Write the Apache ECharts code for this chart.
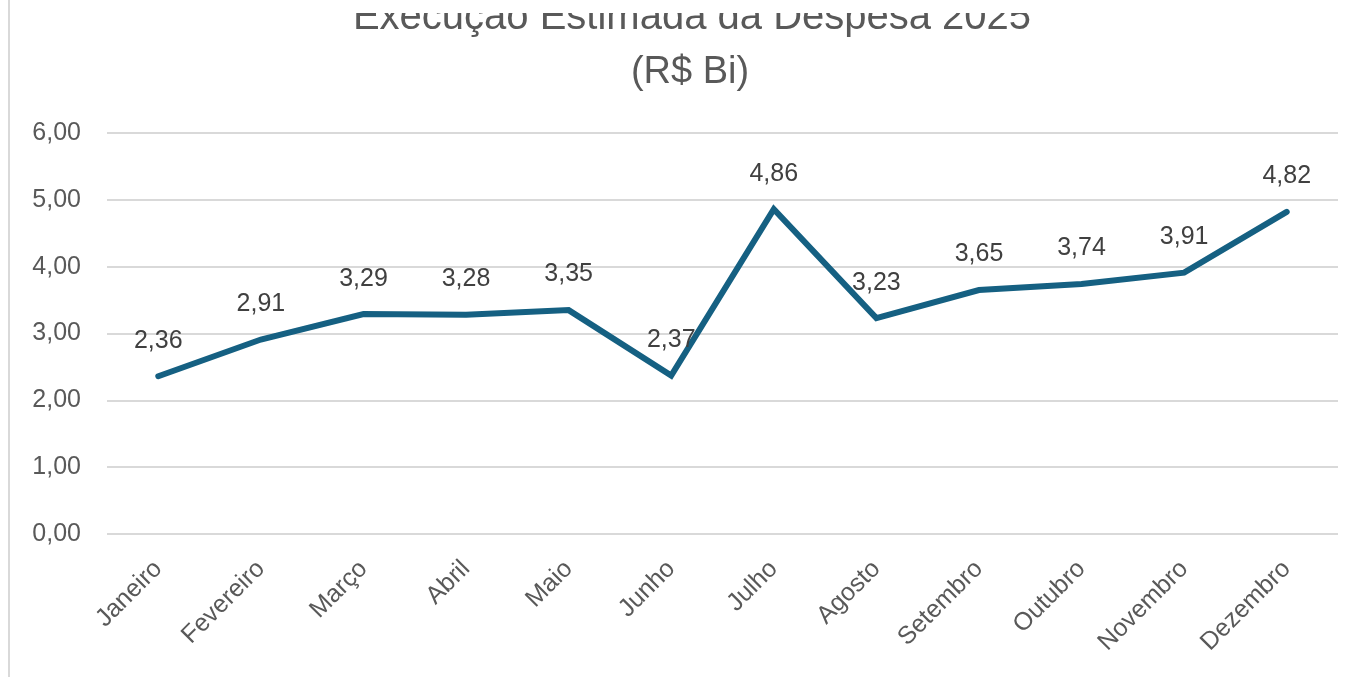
<!DOCTYPE html>
<html>
<head>
<meta charset="utf-8">
<script src="https://cdn.jsdelivr.net/npm/echarts@6/dist/echarts.min.js"></script>
<style>
html,body{margin:0;padding:0;background:#fff;}
#chart{width:1362px;height:677px;}
</style>
</head>
<body>
<div id="chart"></div>
<script>
const titleLines = ['Execução Estimada da Despesa 2025', '(R$ Bi)'];
const categories = ['Janeiro','Fevereiro','Março','Abril','Maio','Junho','Julho','Agosto','Setembro','Outubro','Novembro','Dezembro'];
const values = [2.36, 2.91, 3.29, 3.28, 3.35, 2.37, 4.86, 3.23, 3.65, 3.74, 3.91, 4.82];
const yMin = 0, yMax = 6, yInterval = 1;

const fmt = v => Number(v).toFixed(2).replace('.', ',');
const FONT = '"Liberation Sans", Arial, sans-serif';
const chart = echarts.init(document.getElementById('chart'));
chart.setOption({
  backgroundColor: '#ffffff',
  animation: false,
  graphic: [
    {
      type: 'text', x: 692, y: 38, z: 10,
      style: { text: titleLines[0], fill: '#595959', font: '40px ' + FONT, textAlign: 'center', textVerticalAlign: 'bottom' }
    },
    {
      type: 'text', x: 690, y: 92, z: 10,
      style: { text: titleLines[1], fill: '#595959', font: '38px ' + FONT, textAlign: 'center', textVerticalAlign: 'bottom' }
    },
    {
      type: 'rect', z: 20,
      shape: { x: 11, y: 0, width: 1351, height: 13 },
      style: { fill: '#ffffff' }
    },
    {
      type: 'line', z: 21,
      shape: { x1: 9, y1: 0, x2: 9, y2: 677 },
      style: { stroke: '#d9d9d9', lineWidth: 2 }
    }
  ],
  grid: { left: 107, right: 24, top: 133, bottom: 143, containLabel: false },
  xAxis: {
    type: 'category',
    data: categories,
    boundaryGap: true,
    axisLine: { show: false },
    axisTick: { show: false },
    axisLabel: { rotate: 45, color: '#595959', fontFamily: FONT, fontSize: 25, margin: 31, interval: 0 }
  },
  yAxis: {
    type: 'value',
    min: yMin, max: yMax, interval: yInterval,
    axisLine: { show: false },
    axisTick: { show: false },
    splitLine: { lineStyle: { color: '#d9d9d9', width: 2 } },
    axisLabel: { formatter: fmt, color: '#595959', fontFamily: FONT, fontSize: 25, margin: 26 }
  },
  series: [{
    type: 'line',
    data: values,
    showSymbol: true,
    symbol: 'circle',
    symbolSize: 4,
    lineStyle: { color: '#156082', width: 6, cap: 'round', join: 'miter' },
    itemStyle: { color: '#156082' },
    label: {
      show: true, position: 'top', distance: 21,
      formatter: p => fmt(p.value),
      color: '#404040', fontFamily: FONT, fontSize: 25
    }
  }]
});
</script>
</body>
</html>
